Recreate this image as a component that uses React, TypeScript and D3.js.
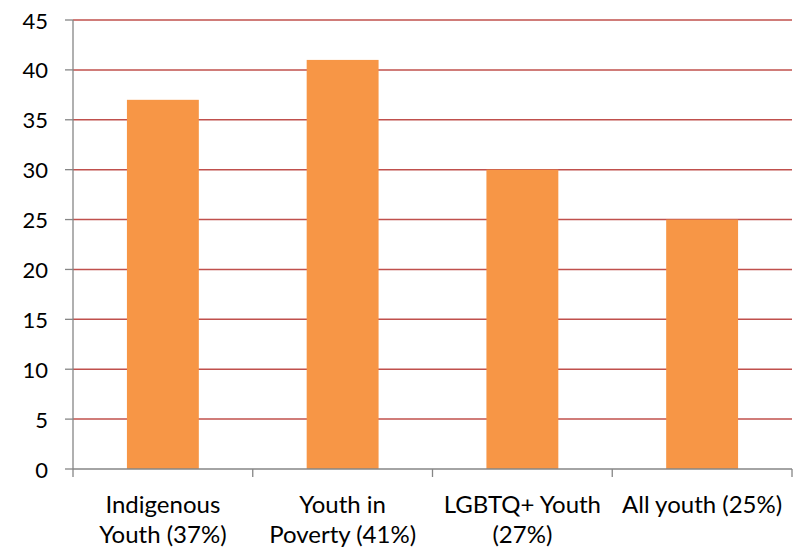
import React from "react";
import * as d3 from "d3";

const categories: string[][] = [
  ["Indigenous", "Youth (37%)"],
  ["Youth in", "Poverty (41%)"],
  ["LGBTQ+ Youth", "(27%)"],
  ["All youth (25%)"],
];
const values: number[] = [37, 41, 30, 25];
const yTicks: number[] = [0, 5, 10, 15, 20, 25, 30, 35, 40, 45];

const W = 795;
const H = 552;
const margin = { left: 73, right: 3, top: 20, bottom: 83 };
const FONT = "Lato, 'Open Sans', sans-serif";

export default function App() {
  const xOuter = d3
    .scaleBand<number>()
    .domain(values.map((_, i) => i))
    .range([margin.left, W - margin.right]);
  const y = d3.scaleLinear().domain([0, 45]).range([H - margin.bottom, margin.top]);
  const step = xOuter.step();
  const barW = step * 0.4;

  return (
    <svg
      width={W}
      height={H}
      style={{ position: "absolute", left: 0, top: 0, background: "#fff" }}
      fontFamily={FONT}
    >
      {yTicks.map((t) => (
        <g key={t}>
          {t > 0 && (
            <line
              x1={margin.left}
              x2={W - margin.right}
              y1={y(t)}
              y2={y(t)}
              stroke="#C0504D"
              strokeWidth={1.5}
            />
          )}
          <line x1={65} x2={margin.left} y1={y(t)} y2={y(t)} stroke="#868686" strokeWidth={1.3} />
          <text
            x={48}
            y={y(t)}
            textAnchor="end"
            dominantBaseline="central"
            fontSize={22}
            fill="#000"
          >
            {t}
          </text>
        </g>
      ))}
      {values.map((v, i) => {
        const cx = (xOuter(i) as number) + step / 2;
        return (
          <rect
            key={i}
            x={cx - barW / 2}
            width={barW}
            y={y(v)}
            height={y(0) - y(v)}
            fill="#F79646"
          />
        );
      })}
      <line
        x1={margin.left}
        x2={margin.left}
        y1={margin.top}
        y2={y(0)}
        stroke="#868686"
        strokeWidth={1.3}
      />
      <line
        x1={margin.left}
        x2={W - margin.right}
        y1={y(0)}
        y2={y(0)}
        stroke="#868686"
        strokeWidth={1.3}
      />
      {d3.range(values.length + 1).map((i) => {
        const xx = margin.left + i * step;
        return (
          <line key={i} x1={xx} x2={xx} y1={y(0)} y2={y(0) + 8} stroke="#868686" strokeWidth={1.3} />
        );
      })}
      {categories.map((lines, i) => {
        const cx = (xOuter(i) as number) + step / 2;
        return (
          <text key={i} textAnchor="middle" fontSize={24} fill="#000">
            {lines.map((l, j) => (
              <tspan key={j} x={cx} y={513 + j * 30}>
                {l}
              </tspan>
            ))}
          </text>
        );
      })}
    </svg>
  );
}
